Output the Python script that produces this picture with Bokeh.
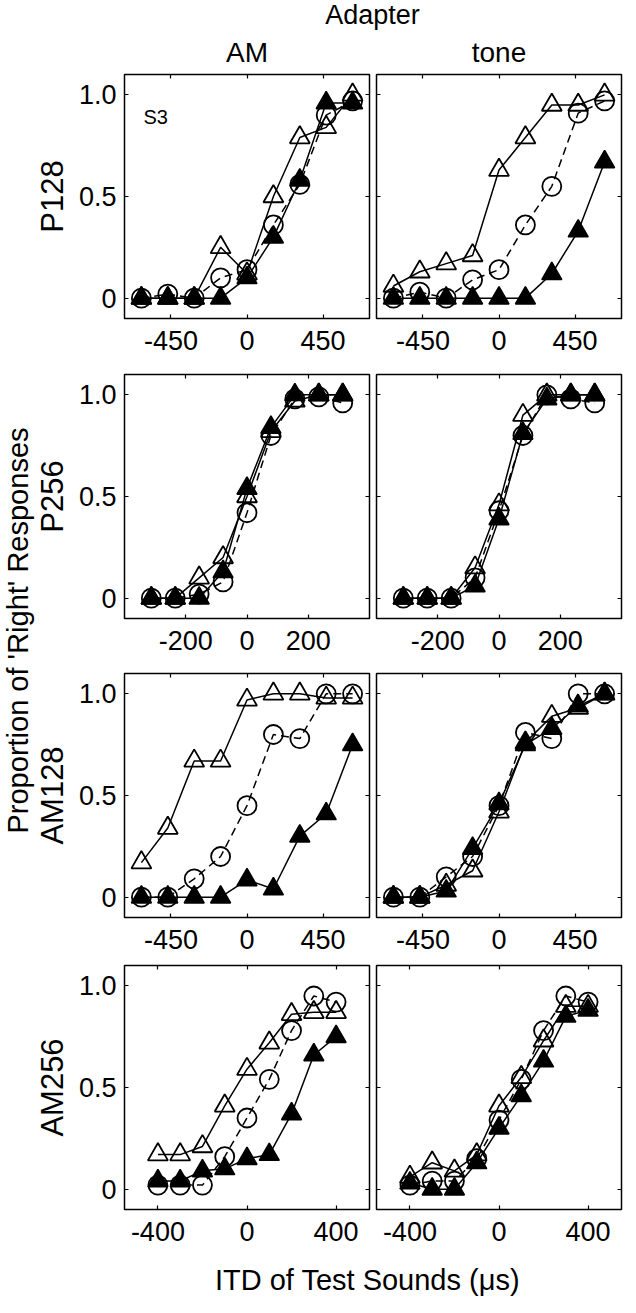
import math
from bokeh.plotting import figure
from bokeh.models import Range1d, FixedTicker, LinearAxis, Label
from bokeh.layouts import column, row
from bokeh.embed import file_html
from bokeh.resources import INLINE
from bokeh.core.properties import value

FONT = "Liberation Sans"

# ---------------- data ----------------
ADAPTERS = ["AM", "tone"]
TESTS = ["P128", "P256", "AM128", "AM256"]

ITD_P128 = [-625, -468.75, -312.5, -156.25, 0, 156.25, 312.5, 468.75, 625]
ITD_P256 = [-312.5, -234.375, -156.25, -78.125, 0, 78.125, 156.25, 234.375, 312.5]
ITD_AM128 = [-625, -468.75, -312.5, -156.25, 0, 156.25, 312.5, 468.75, 625]
ITD_AM256 = [-400, -300, -200, -100, 0, 100, 200, 300, 400]

XTICKS_P128 = [-450, 0, 450]
XTICKS_P256 = [-200, 0, 200]
XTICKS_AM128 = [-450, 0, 450]
XTICKS_AM256 = [-400, 0, 400]

Y_TICKS = [0, 0.5, 1.0]
Y_TICK_LABELS = ["0", "0.5", "1.0"]

# adapter = AM
AM_P128_OPEN = [0.0, 0.0, 0.0, 0.25, 0.12, 0.50, 0.79, 0.84, 1.0]
AM_P128_CIRC = [0.0, 0.02, 0.0, 0.10, 0.14, 0.36, 0.56, 0.90, 0.97]
AM_P128_FILL = [0.0, 0.0, 0.0, 0.0, 0.10, 0.30, 0.58, 0.96, 0.96]

AM_P256_OPEN = [0.0, 0.0, 0.10, 0.20, 0.50, 0.82, 0.97, 1.0, 1.0]
AM_P256_CIRC = [0.0, 0.0, 0.02, 0.08, 0.42, 0.80, 0.98, 0.99, 0.96]
AM_P256_FILL = [0.0, 0.0, 0.0, 0.13, 0.54, 0.84, 1.0, 1.0, 1.0]

AM_AM128_OPEN = [0.17, 0.34, 0.67, 0.67, 0.97, 1.0, 1.0, 0.98, 0.98]
AM_AM128_CIRC = [0.0, 0.0, 0.09, 0.20, 0.45, 0.80, 0.78, 1.0, 1.0]
AM_AM128_FILL = [0.0, 0.0, 0.0, 0.0, 0.085, 0.04, 0.30, 0.41, 0.75]

AM_AM256_OPEN = [0.17, 0.17, 0.21, 0.41, 0.59, 0.72, 0.86, 0.87, 0.87]
AM_AM256_CIRC = [0.02, 0.02, 0.02, 0.16, 0.35, 0.54, 0.78, 0.95, 0.92]
AM_AM256_FILL = [0.04, 0.04, 0.09, 0.10, 0.15, 0.17, 0.37, 0.66, 0.75]

# adapter = tone
TONE_P128_OPEN = [0.06, 0.13, 0.17, 0.21, 0.63, 0.79, 0.95, 0.95, 1.0]
TONE_P128_CIRC = [0.0, 0.03, 0.0, 0.09, 0.14, 0.36, 0.55, 0.91, 0.97]
TONE_P128_FILL = [0.0, 0.0, 0.0, 0.0, 0.0, 0.0, 0.12, 0.33, 0.67]

TONE_P256_OPEN = [0.0, 0.0, 0.0, 0.15, 0.46, 0.90, 1.0, 1.0, 1.0]
TONE_P256_CIRC = [0.0, 0.0, 0.0, 0.10, 0.43, 0.80, 1.0, 0.98, 0.96]
TONE_P256_FILL = [0.0, 0.0, 0.0, 0.06, 0.39, 0.81, 0.98, 1.0, 1.0]

TONE_AM128_OPEN = [0.0, 0.0, 0.06, 0.13, 0.42, 0.76, 0.89, 0.93, 1.0]
TONE_AM128_CIRC = [0.0, 0.0, 0.10, 0.20, 0.45, 0.81, 0.78, 1.0, 1.0]
TONE_AM128_FILL = [0.0, 0.0, 0.03, 0.24, 0.46, 0.75, 0.83, 0.94, 1.0]

TONE_AM256_OPEN = [0.06, 0.13, 0.09, 0.17, 0.41, 0.55, 0.73, 0.90, 0.90]
TONE_AM256_CIRC = [0.02, 0.04, 0.04, 0.15, 0.34, 0.54, 0.78, 0.95, 0.92]
TONE_AM256_FILL = [0.03, 0.0, 0.0, 0.13, 0.30, 0.46, 0.63, 0.85, 0.88]

# ---------------- assembled tables ----------------
ITD = {"P128": ITD_P128, "P256": ITD_P256, "AM128": ITD_AM128, "AM256": ITD_AM256}
XTICKS = {"P128": XTICKS_P128, "P256": XTICKS_P256, "AM128": XTICKS_AM128, "AM256": XTICKS_AM256}
DATA = {
    ("AM", "P128"): (AM_P128_OPEN, AM_P128_CIRC, AM_P128_FILL),
    ("AM", "P256"): (AM_P256_OPEN, AM_P256_CIRC, AM_P256_FILL),
    ("AM", "AM128"): (AM_AM128_OPEN, AM_AM128_CIRC, AM_AM128_FILL),
    ("AM", "AM256"): (AM_AM256_OPEN, AM_AM256_CIRC, AM_AM256_FILL),
    ("tone", "P128"): (TONE_P128_OPEN, TONE_P128_CIRC, TONE_P128_FILL),
    ("tone", "P256"): (TONE_P256_OPEN, TONE_P256_CIRC, TONE_P256_FILL),
    ("tone", "AM128"): (TONE_AM128_OPEN, TONE_AM128_CIRC, TONE_AM128_FILL),
    ("tone", "AM256"): (TONE_AM256_OPEN, TONE_AM256_CIRC, TONE_AM256_FILL),
}

# ---------------- layout constants ----------------
X_HALF = {"P128": 725, "P256": 400, "AM128": 725, "AM256": 550}
FRAME_W = 245
FRAME_H = 244
TOP_B = 2
BOTTOM_B = {"P128": 54, "P256": 53, "AM128": 46, "AM256": 43}
GUTTER_W = 72
TOTAL_W = 624
HEADER_H = 72
FOOTER_H = 45
TICK_FS = "27px"


def canvas(w, h):
    c = figure(width=w, height=h, x_range=Range1d(0, w), y_range=Range1d(h, 0),
               output_backend="svg", toolbar_location=None,
               min_border=0, min_border_left=0, min_border_right=0,
               min_border_top=0, min_border_bottom=0,
               x_axis_location=None, y_axis_location=None,
               outline_line_color=None)
    c.grid.grid_line_color = None
    return c


def make_axis(ticks, labels):
    ax = LinearAxis(ticker=FixedTicker(ticks=ticks, minor_ticks=[]))
    ax.axis_line_color = None
    ax.major_tick_in = 4
    ax.major_tick_out = 0
    ax.major_tick_line_color = "black"
    ax.major_tick_line_width = 1.2
    ax.minor_tick_line_color = None
    if labels is None:
        ax.major_label_text_font_size = "1px"
        ax.major_label_text_color = None
        ax.major_label_standoff = 0
    else:
        ax.major_label_overrides = {t: l for t, l in zip(ticks, labels)}
        ax.major_label_text_font = FONT
        ax.major_label_text_font_size = TICK_FS
        ax.major_label_text_color = "black"
    return ax


def panel(adapter, test, left):
    lb = 52 if left else 3
    rb = 4 if left else 3
    bb = BOTTOM_B[test]
    half = X_HALF[test]
    p = figure(width=lb + FRAME_W + rb, height=TOP_B + FRAME_H + bb,
               x_range=Range1d(-half, half), y_range=Range1d(-0.1, 1.1),
               output_backend="svg", toolbar_location=None,
               min_border_left=lb, min_border_right=rb,
               min_border_top=TOP_B, min_border_bottom=bb,
               x_axis_location=None, y_axis_location=None,
               outline_line_color="black", outline_line_width=1.5,
               background_fill_color="white", border_fill_color="white")
    p.grid.grid_line_color = None
    xt = XTICKS[test]
    bottom = make_axis(xt, [str(t) for t in xt])
    bottom.major_label_standoff = 12
    p.add_layout(bottom, "below")
    p.add_layout(make_axis(xt, None), "above")
    if left:
        lax = make_axis(Y_TICKS, Y_TICK_LABELS)
        lax.major_label_standoff = 8
        p.add_layout(lax, "left")
    else:
        p.add_layout(make_axis(Y_TICKS, None), "left")
    p.add_layout(make_axis(Y_TICKS, None), "right")

    x = ITD[test]
    y_open, y_circ, y_fill = DATA[(adapter, test)]
    p.line(x, y_open, line_color="black", line_width=1.5)
    p.scatter(x, y_open, marker="triangle", size=20, fill_color=None,
              line_color="black", line_width=1.8)
    p.line(x, y_circ, line_color="black", line_width=1.5, line_dash="8 5")
    p.scatter(x, y_circ, marker="circle", size=19, fill_color=None,
              line_color="black", line_width=1.8)
    p.line(x, y_fill, line_color="black", line_width=1.5)
    p.scatter(x, y_fill, marker="triangle", size=20, fill_color="black",
              line_color="black", line_width=1.5)
    if adapter == "AM" and test == "P128":
        p.add_layout(Label(x=-540, y=0.89, text="S3", text_font=FONT,
                           text_font_size="20px", text_align="center",
                           text_baseline="middle", text_color="black"))
    return p


left_figs = [panel("AM", t, True) for t in TESTS]
right_figs = [panel("tone", t, False) for t in TESTS]

# header
header = canvas(TOTAL_W, HEADER_H)
header.text(x=[372], y=[14], text=["Adapter"], text_font=value(FONT),
            text_font_size=value("27px"), text_align="center", text_baseline="middle",
            text_color="black")
col_centers = [GUTTER_W + 52 + FRAME_W / 2, GUTTER_W + 52 + FRAME_W + 4 + 3 + FRAME_W / 2]
header.text(x=col_centers, y=[52, 52], text=ADAPTERS, text_font=value(FONT),
            text_font_size=value("28px"), text_align="center", text_baseline="middle",
            text_color="black")

# gutter with y labels
row_heights = [TOP_B + FRAME_H + BOTTOM_B[t] for t in TESTS]
gutter_h = sum(row_heights)
gutter = canvas(GUTTER_W, gutter_h)
row_mid = []
acc = 0
for h in row_heights:
    row_mid.append(acc + TOP_B + FRAME_H / 2)
    acc += h
gutter.text(x=[52] * 4, y=row_mid, text=TESTS, angle=math.pi / 2,
            text_font=value(FONT), text_font_size=value("31px"),
            text_align="center", text_baseline="middle", text_color="black")
gutter.text(x=[17], y=[558], text=["Proportion of 'Right' Responses"], angle=math.pi / 2,
            text_font=value(FONT), text_font_size=value("29px"),
            text_align="center", text_baseline="middle", text_color="black")

# footer
footer = canvas(TOTAL_W, FOOTER_H)
footer.text(x=[367], y=[27], text=["ITD of Test Sounds (\u03bcs)"], text_font=value(FONT),
            text_font_size=value("29px"), text_align="center", text_baseline="middle",
            text_color="black")

layout = column(header,
                row(gutter, column(*left_figs), column(*right_figs)),
                footer)

open("out.html", "w").write(file_html(layout, INLINE))
